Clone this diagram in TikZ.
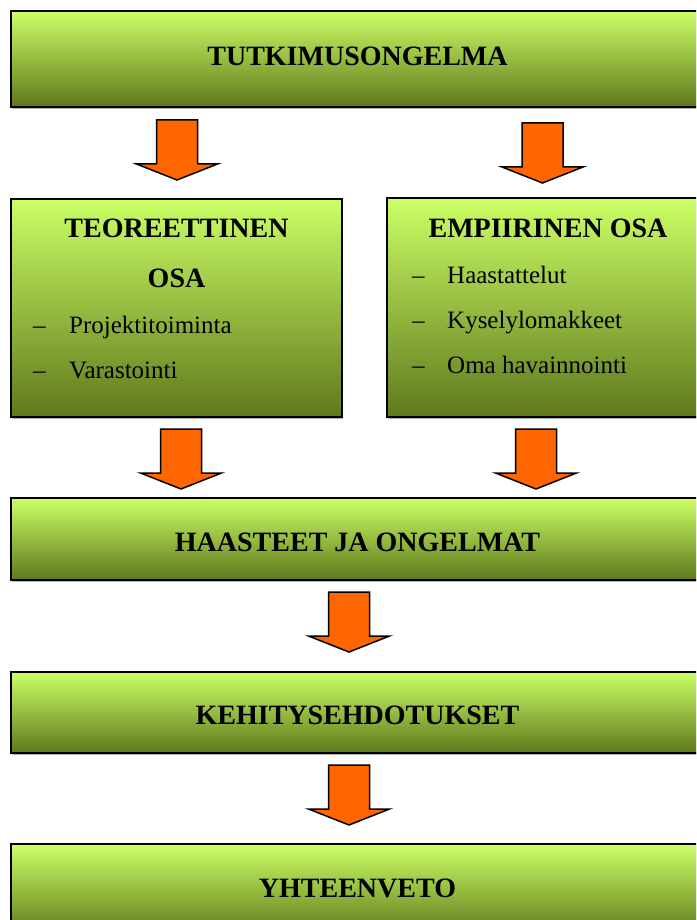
\documentclass[tikz,border=0pt]{standalone}
\usepackage{fontspec}
\setmainfont{Liberation Serif}
\usetikzlibrary{shadows}
\definecolor{limetop}{RGB}{204,255,102}
\definecolor{olivebottom}{RGB}{95,120,28}
\definecolor{arroworange}{RGB}{255,102,0}
\begin{document}
\begin{tikzpicture}[x=1pt,y=-1pt,
  panel/.style={rectangle, draw=black, line width=2pt, top color=limetop,
    bottom color=olivebottom, inner sep=0pt,
    drop shadow={shadow xshift=1pt, shadow yshift=-2pt, fill=gray!60, opacity=1}},
  heading/.style={font=\fontsize{28}{28}\selectfont\bfseries, anchor=base, inner sep=0pt},
  item/.style={font=\fontsize{25}{25}\selectfont, anchor=base west, inner sep=0pt},
  flowarrow/.pic={\draw[fill=arroworange, line width=1.5pt, line join=miter]
    (-20.5,0) -- (20.5,0) -- (20.5,44) -- (40.5,44) -- (0,60) -- (-40.5,44) -- (-20.5,44) -- cycle;}
]
\useasboundingbox (0,0) rectangle (696,920);
\clip (0,0) rectangle (696,920);
\fill[white] (0,0) rectangle (696,920);

% research problem
\node[panel, minimum width=693pt, minimum height=96pt] (problem) at (357.5,59) {};
\node[heading] (problemT) at (357.5,66) {TUTKIMUSONGELMA};

\pic at (177,120) {flowarrow};
\pic at (542.5,123) {flowarrow};

% theory part
\node[panel, minimum width=331pt, minimum height=218pt] (theory) at (176.5,308) {};
\node[heading] (theoryA) at (176.5,237) {TEOREETTINEN};
\node[heading] (theoryB) at (176.5,287) {OSA};
\node[item] (tdash1) at (33,333) {–};
\node[item] (titem1) at (69,333) {Projektitoiminta};
\node[item] (tdash2) at (33,378) {–};
\node[item] (titem2) at (69,378) {Varastointi};

% empirical part
\node[panel, minimum width=317pt, minimum height=219pt] (empiric) at (545.5,307.5) {};
\node[heading] (empiricT) at (548,237) {EMPIIRINEN OSA};
\node[item] (edash1) at (412,283) {–};
\node[item] (eitem1) at (447,283) {Haastattelut};
\node[item] (edash2) at (412,328) {–};
\node[item] (eitem2) at (447,328) {Kyselylomakkeet};
\node[item] (edash3) at (412,373) {–};
\node[item] (eitem3) at (447,373) {Oma havainnointi};

\pic at (181,429) {flowarrow};
\pic at (536,429) {flowarrow};

% challenges
\node[panel, minimum width=693pt, minimum height=82pt] (challenges) at (357.5,539) {};
\node[heading] (challengesT) at (357.5,551) {HAASTEET JA ONGELMAT};

\pic at (349,592) {flowarrow};

% proposals
\node[panel, minimum width=693pt, minimum height=81pt] (proposals) at (357.5,712.5) {};
\node[heading] (proposalsT) at (357.5,724) {KEHITYSEHDOTUKSET};

\pic at (349,765) {flowarrow};

% summary
\node[panel, minimum width=693pt, minimum height=92pt] (summary) at (357.5,890) {};
\node[heading] (summaryT) at (357.5,897) {YHTEENVETO};
\end{tikzpicture}
\end{document}
